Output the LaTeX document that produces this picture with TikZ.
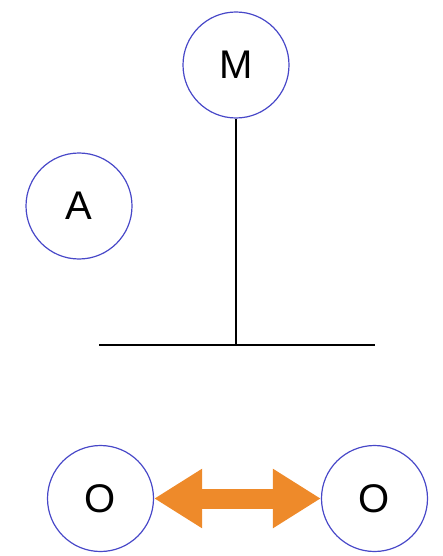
\documentclass[tikz,border=0pt]{standalone}
\usepackage{fontspec}
\setmainfont{Liberation Sans}
\usepackage{xcolor}
\usepackage{tikz}
\usetikzlibrary{arrows.meta,positioning,calc}

\definecolor{ringblue}{RGB}{72,72,200}
\definecolor{swaporange}{RGB}{238,138,42}

\begin{document}
\begin{tikzpicture}[
    x=1pt, y=-1pt,
    ball/.style={circle, draw=ringblue, line width=1.2pt, minimum size=106pt, inner sep=0pt, font=\fontsize{40}{44}\selectfont},
    bar/.style={line width=2pt, black},
    swap/.style={{Triangle[length=48pt,width=56pt]}-{Triangle[length=48pt,width=56pt]}, line width=20pt, swaporange}
]
    \useasboundingbox (0,0) rectangle (443,556);

    \node[ball] (mother) at (236,65) {M};
    \node[ball] (aunt) at (79,206) {A};
    \node[ball] (left) at (100.5,498.5) {O};
    \node[ball] (right) at (374.5,498.5) {O};

    \coordinate (join) at (236,345);
    \coordinate (barL) at (99,345);
    \coordinate (barR) at (375,345);

    \draw[bar] (mother) -- (join);
    \draw[bar] (barL) -- (barR);
    \draw[swap] (left) -- (right);
\end{tikzpicture}
\end{document}
